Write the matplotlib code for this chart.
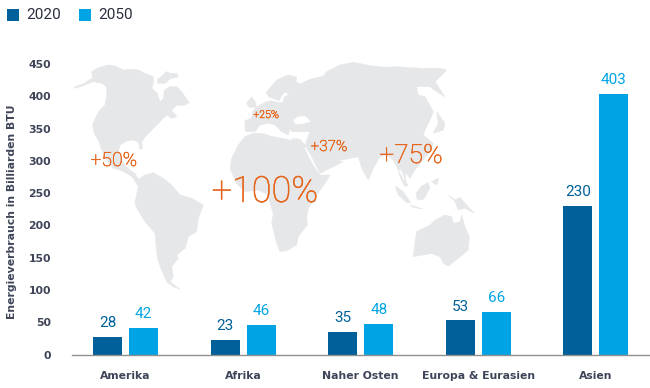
import matplotlib
matplotlib.use('Agg')
import matplotlib.pyplot as plt
import matplotlib.patheffects as pe
import numpy as np
from matplotlib.patches import Polygon, Rectangle

regions = ['Amerika', 'Afrika', 'Naher Osten', 'Europa & Eurasien', 'Asien']
values_2020 = [28, 23, 35, 53, 230]
values_2050 = [42, 46, 48, 66, 403]
y_ticks = [0, 50, 100, 150, 200, 250, 300, 350, 400, 450]
growth_labels = ['+50%', '+100%', '+25%', '+37%', '+75%']

dark = '#00609a'
light = '#00a4e4'
slate = '#3f4558'
orange = '#e5641a'
land = '#e6e7e9'


def crop(x0, y0, pts):
    return [(x0 + x / 3, y0 + y / 3) for x, y in pts]


north_america = crop(70, 55, [
    (12, 97), (45, 84), (52, 78), (68, 70), (65, 50), (85, 38), (115, 30), (135, 33), (160, 45),
    (185, 43), (205, 45), (225, 55), (250, 65), (250, 85), (245, 100), (262, 115), (270, 140),
    (280, 130), (283, 105), (300, 95), (320, 95), (335, 110), (345, 125), (358, 143), (340, 152),
    (320, 150), (305, 165), (320, 185), (305, 190), (290, 180), (275, 195), (255, 215), (235, 235),
    (222, 250), (215, 262), (218, 280), (210, 283), (205, 262), (190, 255), (170, 258), (150, 270),
    (145, 290), (150, 310), (165, 330), (180, 345), (195, 355), (200, 365), (210, 375), (195, 370),
    (170, 355), (150, 345), (130, 340), (110, 315), (95, 285), (85, 255), (75, 240), (70, 225),
    (68, 210), (78, 185), (90, 165), (105, 150), (110, 125), (110, 95), (95, 85), (70, 80), (40, 92),
    (12, 100)])
arctic = crop(70, 55, [(262, 75), (290, 50), (300, 55), (320, 55), (325, 65), (300, 72), (285, 85), (265, 85)])
south_america = crop(120, 170, [
    (20, 0), (35, 20), (55, 30), (75, 15), (100, 8), (130, 25), (155, 45), (180, 75), (215, 85),
    (250, 105), (235, 145), (230, 185), (205, 200), (195, 235), (170, 255), (175, 265), (155, 290),
    (160, 320), (150, 335), (180, 358), (160, 350), (140, 335), (125, 300), (112, 265), (105, 190),
    (75, 155), (48, 110), (45, 95), (55, 50), (40, 25)])
africa = crop(220, 130, [
    (75, 20), (100, 10), (130, 10), (150, 18), (185, 25), (210, 30), (240, 30), (250, 45), (265, 80),
    (285, 115), (300, 135), (330, 135), (315, 160), (290, 195), (265, 235), (260, 265), (262, 285),
    (250, 300), (235, 320), (230, 345), (200, 362), (180, 365), (170, 340), (155, 280), (160, 250),
    (150, 220), (145, 195), (115, 180), (75, 185), (50, 160), (30, 115), (35, 85), (55, 45)])
eurasia = (
    crop(210, 60, [
        (105, 212), (105, 182), (125, 175), (130, 150), (150, 135), (170, 125), (185, 122), (205, 128),
        (218, 128), (222, 112), (236, 104), (226, 96), (214, 108), (208, 122), (192, 116), (178, 112),
        (168, 98), (200, 60), (235, 45), (260, 52), (258, 66), (270, 72), (300, 58), (340, 48), (350, 35)])
    + crop(330, 55, [
        (30, 30), (70, 22), (120, 32), (170, 37), (200, 35), (240, 38), (280, 40), (330, 40), (350, 45),
        (315, 80), (345, 125), (320, 110), (300, 95), (260, 95), (265, 120), (285, 125), (310, 170),
        (300, 195), (285, 225), (280, 240), (310, 265), (300, 290), (270, 325), (255, 345), (240, 370),
        (225, 350), (228, 385), (215, 345), (205, 345), (190, 315), (170, 300), (150, 305), (130, 340),
        (115, 375), (95, 340), (85, 305), (50, 312), (20, 318)])
    + crop(220, 130, [
        (370, 95), (330, 115), (300, 130), (275, 80), (255, 45), (240, 28), (215, 25)])
    + crop(210, 60, [
        (285, 262), (290, 240), (300, 215), (245, 215), (240, 205), (255, 190), (240, 205), (235, 225),
        (215, 215), (195, 195), (175, 190), (150, 195), (135, 215), (110, 215)]))
black_sea = crop(210, 60, [(250, 180), (265, 170), (285, 168), (302, 185), (275, 192), (255, 192)])
uk = crop(210, 60, [(110, 130), (125, 110), (135, 125), (140, 142), (118, 142)])
japan = crop(330, 55, [(320, 170), (345, 205), (340, 225), (310, 235), (325, 205)])
malaya = crop(380, 160, [(55, 30), (70, 60), (85, 75), (75, 80), (60, 50)])
sumatra = crop(380, 160, [(45, 78), (70, 95), (92, 128), (80, 128), (55, 105)])
java = crop(380, 160, [(90, 135), (128, 147), (100, 142)])
borneo = crop(380, 160, [(108, 100), (125, 78), (145, 68), (150, 85), (130, 118), (112, 120)])
sulawesi = crop(380, 160, [(160, 65), (175, 55), (172, 72)])
philippines = crop(320, 50, [(335, 395), (355, 385), (350, 405)])
new_guinea = crop(380, 160, [(205, 105), (225, 120), (240, 112), (260, 135), (283, 160), (255, 145), (235, 150), (225, 125)])
australia = crop(380, 160, [
    (110, 215), (150, 195), (165, 180), (195, 165), (215, 170), (220, 190), (240, 185), (245, 165),
    (255, 200), (268, 230), (265, 270), (235, 295), (205, 318), (190, 310), (180, 290), (155, 280),
    (100, 290), (105, 245)])

land_shapes = [north_america, arctic, south_america, africa, eurasia, uk, japan, malaya, sumatra,
               java, borneo, sulawesi, philippines, new_guinea, australia]

plt.rcParams['font.family'] = ['Roboto', 'DejaVu Sans']

fig = plt.figure(figsize=(6.5, 3.88), dpi=100)

# background layer in pixel coordinates for the map, callouts and legend
bg = fig.add_axes([0, 0, 1, 1])
bg.set_xlim(0, 650)
bg.set_ylim(388, 0)
bg.axis('off')
for shape in land_shapes:
    bg.add_patch(Polygon(shape, closed=True, fc=land, ec=land, lw=0.4))
bg.add_patch(Polygon(black_sea, closed=True, fc='white', ec='white', lw=0.2))

label_x = [114, 265, 266, 329, 411]
label_y = [161, 192, 115, 147, 156]
label_size = [14, 26, 7.7, 11, 19]
for txt, xp, yp, s in zip(growth_labels, label_x, label_y, label_size):
    t = bg.text(xp, yp, txt, color=orange, fontsize=s, ha='center', va='center', fontweight='light')
    # Roboto Light comes out too pale at this size, thicken it a bit
    t.set_path_effects([pe.withStroke(linewidth=0.35, foreground=orange)])

bg.add_patch(Rectangle((7, 9), 12, 12, fc=dark, ec='none'))
bg.add_patch(Rectangle((79, 9), 12, 12, fc=light, ec='none'))
bg.text(26, 15, '2020', color='#2b3040', fontsize=11, va='center')
bg.text(98, 15, '2050', color='#2b3040', fontsize=11, va='center')

px_per_unit = 0.646
ax = fig.add_axes([72 / 650, (388 - 354.7) / 388, 578 / 650, px_per_unit * 500 / 388])
ax.patch.set_alpha(0)
x = np.arange(len(regions))
w = 29 / 117.6
off = 18 / 117.6
bars_a = ax.bar(x - off, values_2020, w, color=dark)
bars_b = ax.bar(x + off, values_2050, w, color=light)
ax.bar_label(bars_a, padding=5, color=dark, fontsize=11)
ax.bar_label(bars_b, padding=5, color=light, fontsize=11)

ax.set_xlim((72 - 125.5) / 117.6, (650 - 125.5) / 117.6)
ax.set_ylim(0, 500)
ax.set_yticks(y_ticks)
ax.set_xticks(x)
ax.set_xticklabels(regions, family=['DejaVu Sans'])
ax.set_yticklabels([str(v) for v in y_ticks], family=['DejaVu Sans'])
ax.tick_params(length=0, labelcolor=slate, labelsize=7.8)
ax.tick_params(axis='y', pad=15)
ax.tick_params(axis='x', pad=11.5)
for t in ax.get_xticklabels() + ax.get_yticklabels():
    t.set_fontweight('bold')
for s in ['top', 'right', 'left']:
    ax.spines[s].set_visible(False)
ax.spines['bottom'].set_color('#8f8f8f')
ax.spines['bottom'].set_linewidth(1.0)

bg.text(12, 212, 'Energieverbrauch in Billiarden BTU', rotation=90, color=slate, fontsize=7.8,
        family=['DejaVu Sans'], fontweight='bold', ha='center', va='center')

fig.savefig('out.png', dpi=100)
